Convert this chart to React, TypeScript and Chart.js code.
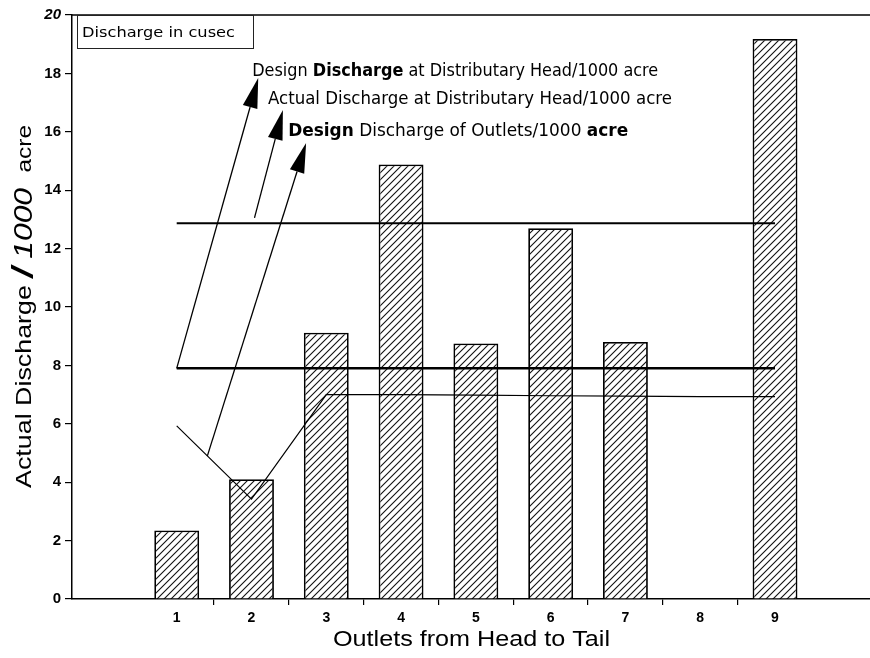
import React, { useEffect, useRef } from "react";
import { Chart, registerables } from "chart.js";

Chart.register(...registerables);

// ---------- data ----------
const OUTLETS = [1, 2, 3, 4, 5, 6, 7, 8, 9];
const OUTLET_LABELS = ["1", "2", "3", "4", "5", "6", "7", "8", "9"];
const ACTUAL_OUTLET_Q = [2.35, 4.1, 9.12, 14.88, 8.75, 12.7, 8.8, null, 19.18];
const ACTUAL_HEAD_Q = [12.87, 12.87, 12.87, 12.87, 12.87, 12.87, 12.87, 12.87, 12.87];
const DESIGN_HEAD_Q = [7.9, 7.9, 7.9, 7.9, 7.9, 7.9, 7.9, 7.9, 7.9];
const DESIGN_OUTLET_Q = [5.93, 3.42, 7.0, 7.0, 6.98, 6.96, 6.95, 6.93, 6.93];
const Y_MIN = 0;
const Y_MAX = 20;
const Y_STEP = 2;
const X_MIN = -0.4;
const X_MAX = 10.27;

// ---------- annotations (data coordinates) ----------
const ARROWS = [
  { from: [1.0, 7.9], to: [2.09, 17.84] },
  { from: [2.04, 13.05], to: [2.42, 16.75] },
  { from: [1.41, 4.9], to: [2.73, 15.62] },
];
const NOTES = [
  { segs: [["Design ", "400"], ["Discharge", "700"], [" at Distributary Head/1000 acre", "400"]], x: 2.01, y: 18.05, width: 406 },
  { segs: [["Actual Discharge at Distributary Head/1000 acre", "400"]], x: 2.22, y: 17.09, width: 404 },
  { segs: [["Design", "700"], [" Discharge of Outlets/1000 ", "400"], ["acre", "700"]], x: 2.49, y: 16.0, width: 340 },
];
const BOX_TEXT = "Discharge in cusec";
const X_TITLE = "Outlets from Head to Tail";
const Y_TITLE_SEGS = [
  ["Actual Discharge ", "400 22px 'Liberation Sans'"],
  ["/", "italic 700 30px 'Liberation Sans'"],
  [" 1000 ", "italic 400 26px 'Liberation Sans'"],
  [" acre", "400 20px 'Liberation Sans'"],
];

type Seg = [string, string];

function drawFitted(ctx: CanvasRenderingContext2D, segs: Seg[], x: number, y: number, width: number) {
  const ws: number[] = [];
  let total = 0;
  for (const s of segs) {
    ctx.font = s[1];
    const w = ctx.measureText(s[0]).width;
    ws.push(w);
    total += w;
  }
  const sx = width / total;
  ctx.save();
  ctx.translate(x, y);
  ctx.scale(sx, 1);
  let cx = 0;
  segs.forEach((s, i) => {
    ctx.font = s[1];
    ctx.fillText(s[0], cx, 0);
    cx += ws[i];
  });
  ctx.restore();
}

const annotate = {
  id: "annotate",
  afterDraw(chart: any) {
    const { ctx, chartArea } = chart;
    const xs = chart.scales.x;
    const ys = chart.scales.y;
    const px = (v: number) => xs.getPixelForValue(v);
    const py = (v: number) => ys.getPixelForValue(v);
    ctx.save();
    ctx.fillStyle = "#000";
    ctx.strokeStyle = "#000";
    ctx.textBaseline = "middle";
    ctx.textAlign = "left";

    // top frame line
    ctx.lineWidth = 1.5;
    ctx.beginPath();
    ctx.moveTo(chartArea.left, chartArea.top);
    ctx.lineTo(chartArea.right, chartArea.top);
    ctx.stroke();

    // legend box
    ctx.lineWidth = 1;
    ctx.strokeStyle = "#222";
    ctx.strokeRect(chartArea.left + 5.5, chartArea.top + 0.5, 176, 33);
    drawFitted(ctx, [[BOX_TEXT, "400 14px 'DejaVu Sans'"]], chartArea.left + 10, chartArea.top + 18, 153);

    // arrows
    ctx.strokeStyle = "#000";
    ctx.lineWidth = 1.3;
    for (const a of ARROWS) {
      const x0 = px(a.from[0]), y0 = py(a.from[1]);
      const x1 = px(a.to[0]), y1 = py(a.to[1]);
      const dx = x1 - x0, dy = y1 - y0;
      const len = Math.hypot(dx, dy);
      const ux = dx / len, uy = dy / len;
      const L = 30, W = 7.5;
      const bx = x1 - ux * L, by = y1 - uy * L;
      ctx.beginPath();
      ctx.moveTo(x0, y0);
      ctx.lineTo(bx, by);
      ctx.stroke();
      ctx.beginPath();
      ctx.moveTo(x1, y1);
      ctx.lineTo(bx - uy * W, by + ux * W);
      ctx.lineTo(bx + uy * W, by - ux * W);
      ctx.closePath();
      ctx.fill();
    }

    // notes
    for (const n of NOTES) {
      const segs: Seg[] = n.segs.map((s) => [s[0], `${s[1]} 17px 'DejaVu Sans'`]);
      drawFitted(ctx, segs, px(n.x), py(n.y), n.width);
    }

    // x title
    const xCenter = (chartArea.left + chartArea.right) / 2;
    drawFitted(ctx, [[X_TITLE, "400 22px 'Liberation Sans'"]], xCenter - 138, 640, 277);

    // y title (rotated)
    const yCenter = (chartArea.top + chartArea.bottom) / 2;
    ctx.save();
    ctx.translate(25, yCenter + 181);
    ctx.rotate(-Math.PI / 2);
    drawFitted(ctx, Y_TITLE_SEGS as Seg[], 0, 0, 363);
    ctx.restore();

    ctx.restore();
  },
};

export default function App() {
  const ref = useRef<HTMLCanvasElement>(null);
  useEffect(() => {
    const canvas = ref.current!;
    const T = 7;
    const pc = document.createElement("canvas");
    pc.width = T;
    pc.height = T;
    const p = pc.getContext("2d")!;
    p.fillStyle = "#fff";
    p.fillRect(0, 0, T, T);
    p.strokeStyle = "#111";
    p.lineWidth = 1.1;
    p.beginPath();
    p.moveTo(-1, T + 1);
    p.lineTo(T + 1, -1);
    p.moveTo(-1, 1);
    p.lineTo(1, -1);
    p.moveTo(T - 1, T + 1);
    p.lineTo(T + 1, T - 1);
    p.stroke();
    const hatch = canvas.getContext("2d")!.createPattern(pc, "repeat");

    const pts = (vals: (number | null)[]) => OUTLETS.map((o, i) => ({ x: o, y: vals[i] }));
    const lineDs = (label: string, vals: number[], w: number) => ({
      type: "line" as const,
      label,
      data: pts(vals),
      borderColor: "#000",
      borderWidth: w,
      pointRadius: 0,
      fill: false,
      tension: 0,
      order: 1,
    });

    const chart = new Chart(canvas, {
      type: "bar",
      data: {
        datasets: [
          {
            type: "bar",
            label: "Actual Discharge of Outlets/1000 acre",
            data: pts(ACTUAL_OUTLET_Q) as any,
            backgroundColor: hatch as any,
            borderColor: "#000",
            borderWidth: 1.8,
            barPercentage: 0.6,
            categoryPercentage: 1,
            order: 2,
          },
          lineDs("Actual Discharge at Distributary Head/1000 acre", ACTUAL_HEAD_Q, 2) as any,
          lineDs("Design Discharge at Distributary Head/1000 acre", DESIGN_HEAD_Q, 2.5) as any,
          lineDs("Design Discharge of Outlets/1000 acre", DESIGN_OUTLET_Q, 1.2) as any,
        ],
      },
      options: {
        animation: false,
        responsive: false,
        layout: { padding: { top: 15, left: 0, right: 0, bottom: 0 } },
        plugins: { legend: { display: false }, tooltip: { enabled: false }, title: { display: false } },
        scales: {
          x: {
            type: "linear",
            min: X_MIN,
            max: X_MAX,
            offset: false,
            afterBuildTicks: (s: any) => {
              s.ticks = OUTLETS.map((v) => ({ value: v }));
            },
            afterFit: (s: any) => {
              s.height = 59;
            },
            ticks: {
              autoSkip: false,
              maxRotation: 0,
              padding: 5,
              color: "#000",
              font: { family: "'Liberation Sans'", size: 14, weight: "bold" },
              callback: (v: any) => {
                const i = OUTLETS.indexOf(Number(v));
                return i >= 0 ? OUTLET_LABELS[i] : "";
              },
            },
            grid: {
              offset: true,
              drawOnChartArea: false,
              drawTicks: true,
              tickLength: 6,
              lineWidth: 1.2,
              color: (c: any) => (c.type !== "tick" || c.index === 0 ? "rgba(0,0,0,0)" : "#000"),
            },
            border: { display: true, color: "#000", width: 1.5 },
          },
          y: {
            type: "linear",
            min: Y_MIN,
            max: Y_MAX,
            afterFit: (s: any) => {
              s.width = 72;
            },
            ticks: {
              stepSize: Y_STEP,
              padding: 4,
              color: "#000",
              font: (c: any) =>
                c.tick && c.tick.value === Y_MAX
                  ? { family: "'Liberation Sans'", size: 15, weight: "bold", style: "italic" }
                  : { family: "'Liberation Sans'", size: 15, weight: "bold" },
            },
            grid: {
              drawOnChartArea: false,
              drawTicks: true,
              tickLength: 7,
              color: "#000",
              lineWidth: 1.2,
            },
            border: { display: true, color: "#000", width: 1.5 },
          },
        },
      },
      plugins: [annotate],
    } as any);
    return () => chart.destroy();
  }, []);
  return (
    <div style={{ position: "fixed", left: 0, top: 0, width: 870, height: 658, background: "#fff" }}>
      <canvas ref={ref} width={870} height={658} style={{ display: "block" }} />
    </div>
  );
}
